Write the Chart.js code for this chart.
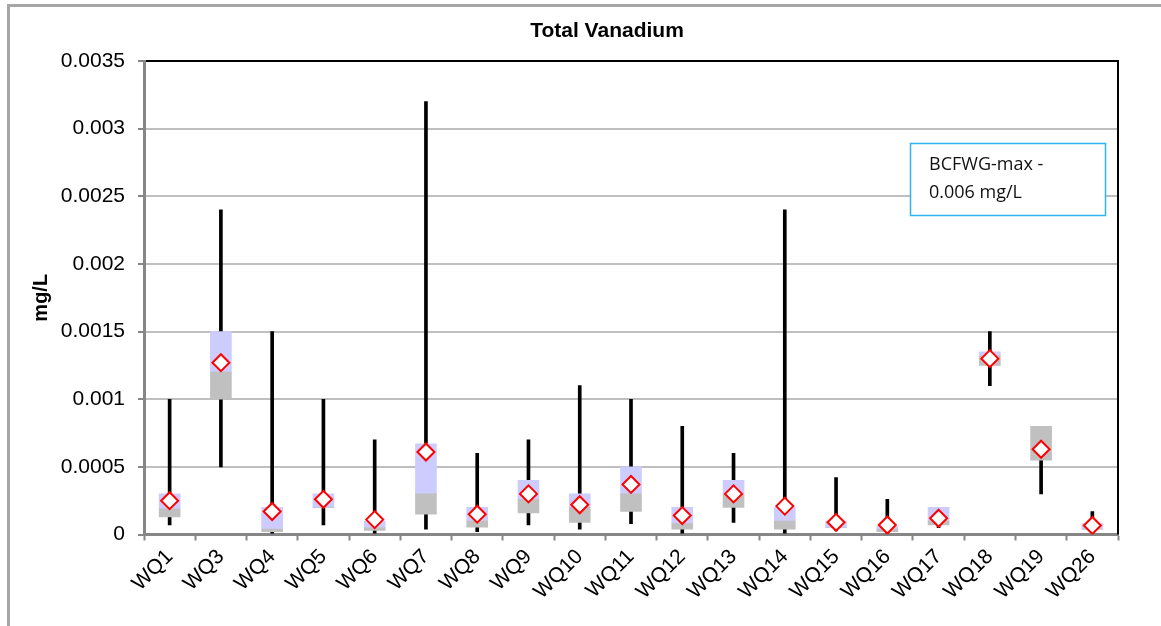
<!DOCTYPE html>
<html>
<head>
<meta charset="utf-8">
<title>Total Vanadium</title>
<script src="https://cdn.jsdelivr.net/npm/chart.js@4.4.1/dist/chart.umd.min.js"></script>
<style>
  html, body { margin: 0; padding: 0; background: #ffffff; }
  #wrap { position: relative; width: 1161px; height: 626px; }
  canvas { display: block; }
</style>
</head>
<body>
<div id="wrap"><canvas id="chart" width="1161" height="626"></canvas></div>
<script>
// Sampling stations
const stations = ['WQ1', 'WQ3', 'WQ4', 'WQ5', 'WQ6', 'WQ7', 'WQ8', 'WQ9', 'WQ10', 'WQ11',
                  'WQ12', 'WQ13', 'WQ14', 'WQ15', 'WQ16', 'WQ17', 'WQ18', 'WQ19', 'WQ26'];

// Summary statistics per station (mg/L)
const minimum = [0.00007, 0.0005, 0.00001, 0.00007, 0.00001, 0.00004, 0.00002, 0.00007, 0.00004, 0.00008,
                 0.00001, 0.00009, 0.00001, 0.00003, 0.00001, 0.00005, 0.0011, 0.0003, 0.00003];
const quartile1 = [0.00013, 0.001, 0.00002, 0.0002, 0.00003, 0.00015, 0.000055, 0.00016, 0.00009, 0.00017,
                   0.00004, 0.0002, 0.00004, 0.00005, 0.00002, 0.00007, 0.00125, 0.00055, 0.00004];
const median = [0.00019, 0.0012, 0.00004, 0.0002, 0.00005, 0.0003, 0.0001, 0.00026, 0.0002, 0.0003,
                0.00008, 0.0003, 0.0001, 0.00005, 0.00004, 0.0001, 0.00132, 0.0008, 0.00004];
const quartile3 = [0.0003, 0.0015, 0.0002, 0.0003, 0.0001, 0.00067, 0.0002, 0.0004, 0.0003, 0.0005,
                   0.0002, 0.0004, 0.0002, 0.0001, 0.00006, 0.0002, 0.00135, 0.0008, 0.00008];
const maximum = [0.001, 0.0024, 0.0015, 0.001, 0.0007, 0.0032, 0.0006, 0.0007, 0.0011, 0.001,
                 0.0008, 0.0006, 0.0024, 0.00042, 0.00026, 0.0002, 0.0015, 0.0008, 0.00017];
const mean = [0.00025, 0.00127, 0.00017, 0.00026, 0.00011, 0.00061, 0.00015, 0.0003, 0.00022, 0.00037,
              0.00014, 0.0003, 0.00021, 0.00009, 0.00007, 0.00012, 0.0013, 0.00063, 0.000067];

// Value axis
const yTickLabels = ['0', '0.0005', '0.001', '0.0015', '0.002', '0.0025', '0.003', '0.0035'];
const yMax = 0.0035;
const yStep = 0.0005;

// Texts
const chartTitle = 'Total Vanadium';
const yAxisTitle = 'mg/L';
const guidelineNote = ['BCFWG-max -', '0.006 mg/L'];

const FONT = "'Liberation Sans', Arial, sans-serif";
const AXIS_GREY = '#868686';

// White background, grey frame on the left and top edges, and the chart title
const framePlugin = {
  id: 'frame',
  beforeDraw(chart) {
    const ctx = chart.ctx;
    ctx.save();
    ctx.fillStyle = '#ffffff';
    ctx.fillRect(0, 0, chart.width, chart.height);
    ctx.fillStyle = '#a6a6a6';
    ctx.fillRect(7, 4, 3, chart.height - 4);
    ctx.fillRect(7, 4, chart.width - 7, 3);
    ctx.fillStyle = '#000000';
    ctx.font = 'bold 21px ' + FONT;
    ctx.textAlign = 'center';
    ctx.textBaseline = 'middle';
    ctx.fillText(chartTitle, 607, 31);
    ctx.restore();
  }
};

// Black edge on the right side of the plot area
const plotEdgePlugin = {
  id: 'plotEdge',
  beforeDatasetsDraw(chart) {
    const { ctx, chartArea } = chart;
    ctx.save();
    ctx.strokeStyle = '#000000';
    ctx.lineWidth = 2;
    ctx.beginPath();
    ctx.moveTo(chartArea.right, chartArea.top - 1);
    ctx.lineTo(chartArea.right, chartArea.bottom);
    ctx.stroke();
    ctx.restore();
  }
};

// Guideline note box in the upper right of the plot
const notePlugin = {
  id: 'note',
  afterDraw(chart) {
    const ctx = chart.ctx;
    const x = 910.5, y = 143.5, w = 195, h = 72;
    ctx.save();
    ctx.fillStyle = '#ffffff';
    ctx.fillRect(x, y, w, h);
    ctx.strokeStyle = '#2cb5ef';
    ctx.lineWidth = 1.5;
    ctx.strokeRect(x, y, w, h);
    ctx.fillStyle = '#111111';
    ctx.font = "18px 'Open Sans', 'Noto Sans', sans-serif";
    ctx.textAlign = 'left';
    ctx.textBaseline = 'middle';
    guidelineNote.forEach((line, i) => ctx.fillText(line, 929, 165 + i * 28));
    ctx.restore();
  }
};

new Chart(document.getElementById('chart'), {
  type: 'bar',
  data: {
    labels: stations,
    datasets: [
      {
        label: 'Mean',
        type: 'line',
        data: mean,
        showLine: false,
        pointStyle: 'rectRot',
        pointRadius: 8.5,
        pointHoverRadius: 8.5,
        pointBorderWidth: 2,
        pointBorderColor: '#ff0000',
        pointBackgroundColor: '#ffffff',
        order: 1
      },
      {
        label: '25th-Median',
        data: stations.map((_, i) => [quartile1[i], median[i]]),
        backgroundColor: '#c0c0c0',
        borderWidth: 0,
        barThickness: 21,
        grouped: false,
        order: 2
      },
      {
        label: 'Median-75th',
        data: stations.map((_, i) => [median[i], quartile3[i]]),
        backgroundColor: '#ccccff',
        borderWidth: 0,
        barThickness: 21,
        grouped: false,
        order: 2
      },
      {
        label: 'Range',
        data: stations.map((_, i) => [minimum[i], maximum[i]]),
        backgroundColor: '#000000',
        borderWidth: 0,
        barThickness: 3,
        grouped: false,
        order: 3
      }
    ]
  },
  options: {
    responsive: false,
    animation: false,
    events: [],
    layout: { padding: { left: 25, top: 61, right: 43, bottom: 0 } },
    plugins: {
      legend: { display: false },
      tooltip: { enabled: false },
      title: { display: false }
    },
    scales: {
      x: {
        offset: true,
        grid: {
          offset: true,
          drawOnChartArea: false,
          drawTicks: true,
          tickLength: 6,
          tickColor: AXIS_GREY,
          tickWidth: 2
        },
        border: { color: AXIS_GREY, width: 3 },
        ticks: {
          autoSkip: false,
          minRotation: 45,
          maxRotation: 45,
          padding: 4,
          color: '#000000',
          font: { family: FONT, size: 21 }
        },
        afterFit(scale) { scale.height = 91.5; }
      },
      y: {
        min: 0,
        max: yMax,
        grid: {
          color: (c) => (c.tick && Math.abs(c.tick.value - yMax) < 1e-9) ? '#000000' : '#bfbfbf',
          lineWidth: 2,
          drawTicks: true,
          tickLength: 6,
          tickColor: AXIS_GREY,
          tickWidth: 2
        },
        border: { color: AXIS_GREY, width: 3 },
        ticks: {
          stepSize: yStep,
          padding: 13,
          color: '#000000',
          font: { family: FONT, size: 21 },
          callback: (value, index) => yTickLabels[index]
        },
        title: {
          display: true,
          text: yAxisTitle,
          color: '#000000',
          font: { family: FONT, size: 20, weight: 'bold' },
          padding: { top: 4, bottom: 4 }
        },
        afterFit(scale) { scale.width = 119; }
      }
    }
  },
  plugins: [framePlugin, plotEdgePlugin, notePlugin]
});
</script>
</body>
</html>
